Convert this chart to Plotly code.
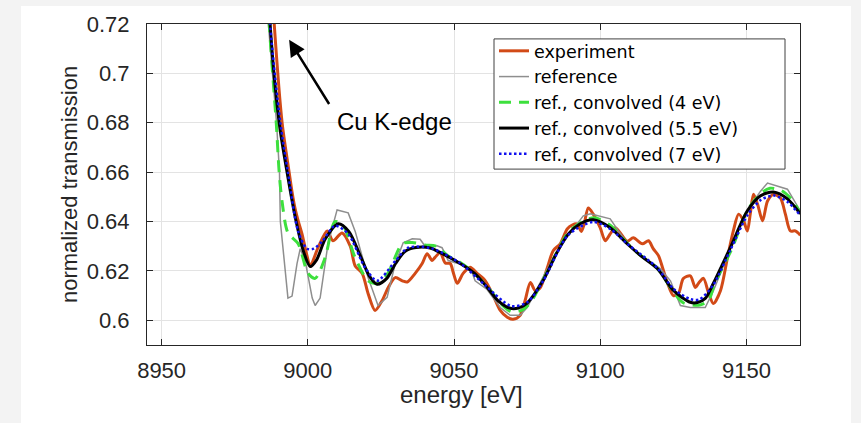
import plotly.graph_objects as go

# ---------------- data ----------------
exp_E = [8986.0, 8988.5, 8991.2, 8993.6, 8994.6, 8995.6, 8996.7, 8998.0, 8999.7, 9000.8,
         9003.5, 9006.6, 9008.6, 9011.7, 9014.5, 9016.2, 9018.6, 9020.6, 9023.0, 9025.4,
         9027.5, 9029.9, 9032.3, 9034.0, 9036.7, 9039.1, 9040.8, 9042.5, 9043.5, 9045.3,
         9047.0, 9048.7, 9049.7, 9051.1, 9053.1, 9055.5, 9057.9, 9060.7, 9063.4, 9065.8,
         9068.2, 9070.2, 9072.6, 9074.3, 9076.1, 9077.8, 9079.5, 9081.9, 9083.9, 9086.3,
         9088.7, 9090.4, 9092.1, 9093.5, 9094.5, 9095.9, 9097.6, 9100.0, 9101.7, 9103.4,
         9105.1, 9106.8, 9109.2, 9111.3, 9114.4, 9116.5, 9118.1, 9119.9, 9121.3, 9123.0,
         9125.0, 9126.8, 9128.4, 9130.8, 9132.5, 9133.9, 9135.3, 9137.0, 9138.7, 9141.1,
         9143.5, 9145.5, 9147.3, 9149.0, 9150.3, 9151.3, 9152.4, 9153.8, 9155.5, 9157.2,
         9159.2, 9161.6, 9163.3, 9165.0, 9166.7, 9168.4]
exp_T = [0.770, 0.720, 0.680, 0.660, 0.652, 0.6455, 0.6403, 0.635, 0.6262, 0.622,
         0.6294, 0.6362, 0.6322, 0.6354, 0.630, 0.622, 0.619, 0.6109, 0.604, 0.608,
         0.6133, 0.6173, 0.616, 0.6155, 0.619, 0.623, 0.627, 0.6242, 0.6255, 0.6274,
         0.6232, 0.623, 0.6195, 0.615, 0.619, 0.6215, 0.619, 0.616, 0.610, 0.604,
         0.6012, 0.6004, 0.602, 0.608, 0.6153, 0.612, 0.6133, 0.6213, 0.6282, 0.631,
         0.637, 0.6386, 0.639, 0.636, 0.639, 0.6455, 0.643, 0.6374, 0.6322, 0.635,
         0.6375, 0.6355, 0.632, 0.6334, 0.631, 0.6322, 0.629, 0.6262, 0.6213, 0.615,
         0.610, 0.611, 0.6169, 0.618, 0.6133, 0.6155, 0.617, 0.6112, 0.6068, 0.612,
         0.6254, 0.6362, 0.643, 0.6403, 0.6362, 0.6432, 0.6511, 0.6470, 0.6403, 0.6483,
         0.651, 0.6495, 0.643, 0.6362, 0.6362, 0.6345, 0.6342]

ref_E = [8985.5, 8986.5, 8989.3, 8990.3, 8990.6, 8992.2, 8993.2, 8994.6, 8996.3, 8997.4,
         8999.1, 9001.5, 9002.5, 9004.2, 9006.9, 9010.0, 9013.8, 9016.2, 9020.6, 9024.0,
         9027.1, 9029.9, 9032.6, 9035.7, 9038.4, 9040.1, 9041.8, 9044.2, 9045.9, 9048.0,
         9051.1, 9053.8, 9056.2, 9057.2, 9061.3, 9065.8, 9069.2, 9072.6, 9075.0, 9078.4,
         9084.0, 9089.1, 9094.2, 9096.6, 9103.4, 9106.2, 9110.0, 9115.0, 9120.5, 9124.0,
         9127.4, 9130.8, 9135.9, 9138.7, 9144.5, 9150.3, 9154.8, 9157.2, 9164.0, 9168.4]
ref_T = [0.780, 0.720, 0.680, 0.660, 0.640, 0.620, 0.609, 0.6098, 0.623, 0.629,
         0.624, 0.609, 0.606, 0.609, 0.631, 0.6447, 0.6435, 0.636, 0.6173, 0.606,
         0.6093, 0.623, 0.6314, 0.633, 0.6328, 0.630, 0.6294, 0.6302, 0.6294, 0.6242,
         0.623, 0.6222, 0.6193, 0.616, 0.6125, 0.6052, 0.602, 0.602, 0.6052, 0.6129,
         0.6255, 0.6345, 0.6423, 0.6431, 0.6411, 0.6362, 0.6300, 0.6255, 0.621, 0.616,
         0.606, 0.6052, 0.6052, 0.612, 0.6290, 0.6445, 0.6523, 0.6556, 0.6531, 0.6443]

c4_E = [8985.0, 8986.8, 8989.2, 8990.2, 8991.2, 8993.2, 8996.7, 9000.1, 9002.5, 9005.9,
        9009.3, 9012.1, 9016.2, 9020.6, 9024.0, 9027.5, 9032.3, 9035.7, 9040.0, 9044.0,
        9048.0, 9052.0, 9056.0, 9062.0, 9066.0, 9069.5, 9073.0, 9076.0, 9080.5, 9089.0,
        9094.0, 9098.0, 9103.4, 9107.0, 9112.0, 9119.5, 9125.0, 9128.5, 9134.0, 9137.0,
        9139.0, 9145.0, 9150.3, 9155.0, 9158.0, 9162.0, 9165.0, 9168.4]
c4_T = [0.770, 0.720, 0.680, 0.660, 0.648, 0.6354, 0.631, 0.619, 0.617, 0.6253,
        0.640, 0.6383, 0.6253, 0.616, 0.6149, 0.6193, 0.631, 0.6315, 0.6305, 0.630,
        0.626, 0.6235, 0.620, 0.6128, 0.6068, 0.6035, 0.604, 0.607, 0.6165, 0.6355,
        0.640, 0.6415, 0.6385, 0.634, 0.628, 0.621, 0.6115, 0.607, 0.6062, 0.608,
        0.6145, 0.629, 0.6445, 0.6515, 0.6535, 0.6525, 0.6495, 0.6435]

c55_E = [8985.5, 8987.1, 8990.2, 8992.9, 8996.0, 8998.5, 9000.8, 9003.0, 9006.0, 9010.4,
         9014.0, 9018.0, 9021.0, 9023.7, 9027.0, 9030.0, 9033.3, 9037.0, 9041.8, 9046.0,
         9052.1, 9057.0, 9061.3, 9065.0, 9069.2, 9072.0, 9075.0, 9080.5, 9085.0, 9089.1,
         9093.0, 9097.6, 9103.4, 9109.2, 9114.0, 9119.5, 9125.0, 9130.8, 9133.2, 9136.0,
         9138.7, 9144.5, 9150.3, 9154.8, 9159.2, 9164.0, 9168.4]
c55_T = [0.765, 0.720, 0.680, 0.660, 0.640, 0.628, 0.6218, 0.6245, 0.633, 0.6391,
         0.636, 0.626, 0.618, 0.6146, 0.617, 0.623, 0.628, 0.6295, 0.6293, 0.627,
         0.623, 0.619, 0.6134, 0.608, 0.6049, 0.605, 0.607, 0.6162, 0.627, 0.635,
         0.639, 0.6407, 0.6375, 0.631, 0.626, 0.621, 0.6121, 0.6073, 0.6072, 0.609,
         0.615, 0.6295, 0.6443, 0.6504, 0.652, 0.6492, 0.6431]

c7_E = [8985.5, 8987.1, 8990.6, 8993.2, 8996.7, 8999.7, 9002.0, 9004.9, 9009.3, 9013.8,
        9019.6, 9023.7, 9029.9, 9034.3, 9042.0, 9052.0, 9061.0, 9069.5, 9075.0, 9080.5,
        9089.0, 9097.6, 9103.4, 9109.2, 9119.5, 9125.0, 9131.0, 9134.0, 9138.7, 9144.5,
        9150.3, 9155.0, 9159.5, 9164.0, 9168.4]
c7_T = [0.765, 0.720, 0.680, 0.660, 0.636, 0.629, 0.629, 0.632, 0.6383, 0.635,
        0.6213, 0.616, 0.624, 0.6294, 0.6292, 0.6232, 0.6138, 0.6058, 0.6073, 0.616,
        0.6345, 0.6398, 0.637, 0.631, 0.6212, 0.6128, 0.6085, 0.6085, 0.6145, 0.6285,
        0.6425, 0.6488, 0.6505, 0.648, 0.6425]

series_names = ["experiment", "reference", "ref., convolved (4 eV)",
                "ref., convolved (5.5 eV)", "ref., convolved (7 eV)"]

y_ticks = [0.6, 0.62, 0.64, 0.66, 0.68, 0.7, 0.72]
y_tick_text = ["0.6", "0.62", "0.64", "0.66", "0.68", "0.7", "0.72"]
x_ticks = [8950, 9000, 9050, 9100, 9150]

FONT = "Liberation Sans, Arial, Helvetica, sans-serif"
LEG_FONT = "DejaVu Sans, Liberation Sans, Arial, sans-serif"
AX = "#262626"

fig = go.Figure()
fig.add_trace(go.Scatter(x=exp_E, y=exp_T, name=series_names[0], mode="lines",
                         line=dict(color="#d24a17", width=3, shape="spline", smoothing=0.8)))
fig.add_trace(go.Scatter(x=ref_E, y=ref_T, name=series_names[1], mode="lines",
                         line=dict(color="#8e8e8e", width=1.5)))
fig.add_trace(go.Scatter(x=c4_E, y=c4_T, name=series_names[2], mode="lines",
                         line=dict(color="#3de03d", width=3, dash="12px,8px", shape="spline", smoothing=0.8)))
fig.add_trace(go.Scatter(x=c55_E, y=c55_T, name=series_names[3], mode="lines",
                         line=dict(color="#000000", width=3, shape="spline", smoothing=0.8)))
fig.add_trace(go.Scatter(x=c7_E, y=c7_T, name=series_names[4], mode="lines",
                         line=dict(color="#1010ee", width=2.5, dash="2.5px,2.5px", shape="spline", smoothing=0.8)))

# white figure panel on a light grey page
fig.add_shape(type="rect", xref="paper", yref="paper",
              x0=(21 - 147) / 653, x1=(851 - 147) / 653, y0=-0.35, y1=(345 - 4) / 323,
              fillcolor="white", line=dict(width=0), layer="below")

# legend frame (wider than the auto-sized plotly legend box, as in the reference)
fig.add_shape(type="rect", xref="paper", yref="paper",
              x0=(494 - 147) / 653, x1=(785 - 147) / 653,
              y0=(345 - 168) / 323, y1=(345 - 37) / 323,
              fillcolor="white", line=dict(color="#404040", width=1), layer="above")

# annotation: arrow + text
fig.add_annotation(x=8993.6, y=0.7136, ax=9007.6, ay=0.687, xref="x", yref="y",
                   axref="x", ayref="y", text="", showarrow=True,
                   arrowhead=2, arrowsize=1.3, arrowwidth=2.5, arrowcolor="black")
fig.add_annotation(x=9029.5, y=0.6805, xref="x", yref="y", text="Cu K-edge",
                   showarrow=False, font=dict(family=FONT, size=24, color="black"))

# x-axis label (placed as in the reference, slightly left of centre)
fig.add_annotation(x=(461 - 147) / 653, y=(345 - 395) / 323, xref="paper", yref="paper",
                   text="energy [eV]", showarrow=False, xanchor="center", yanchor="middle",
                   font=dict(family=FONT, size=24, color=AX))

axis_common = dict(showline=True, linecolor=AX, linewidth=1, mirror="ticks",
                   ticks="inside", ticklen=6, tickcolor=AX, tickwidth=1,
                   showgrid=True, gridcolor="#e3e3e3", gridwidth=1, zeroline=False,
                   tickfont=dict(family=FONT, size=22, color=AX))

fig.update_layout(
    width=861, height=423,
    margin=dict(l=147, r=61, t=22, b=78),
    paper_bgcolor="#f3f3f3", plot_bgcolor="white",
    showlegend=True,
    legend=dict(x=(494 - 147) / 653, y=(345 - 31) / 323, xanchor="left", yanchor="top",
                bgcolor="rgba(0,0,0,0)", borderwidth=0,
                font=dict(family=LEG_FONT, size=17.5, color="black"),
                itemwidth=30, tracegroupgap=0),
    xaxis=dict(range=[8945, 9168.3], tickvals=x_ticks, ticklabelstandoff=6, **axis_common),
    yaxis=dict(range=[0.59, 0.72], tickvals=y_ticks, ticktext=y_tick_text,
               title=dict(text="normalized transmission", font=dict(family=FONT, size=22, color=AX), standoff=3),
               ticklabelstandoff=12, **axis_common),
)

fig.write_html("out.html")
